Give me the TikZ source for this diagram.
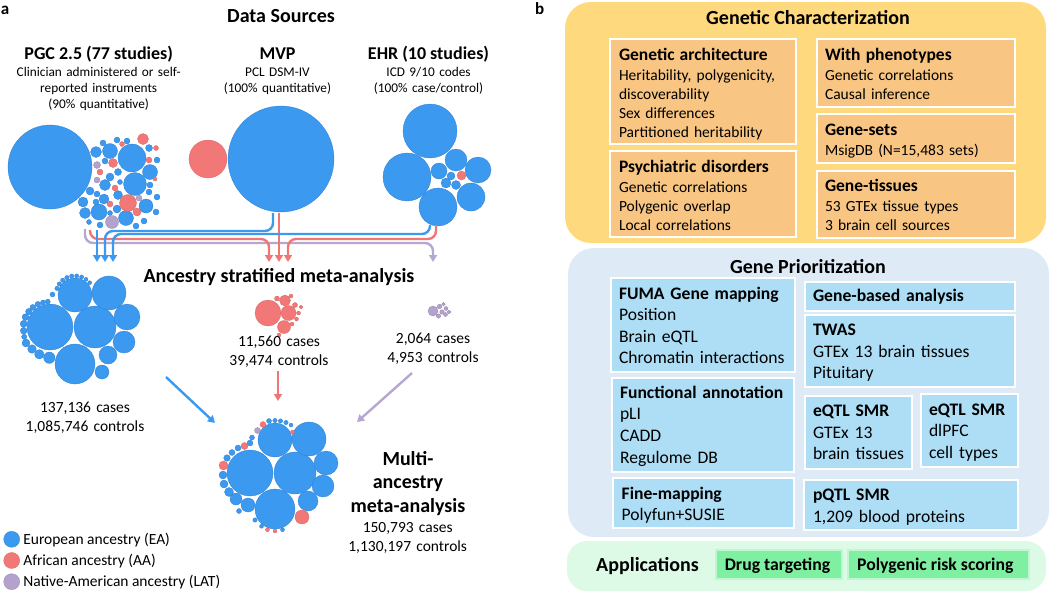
\documentclass[tikz,border=0pt]{standalone}
\usepackage{fontspec}
\setmainfont{Carlito}
\usetikzlibrary{arrows.meta}
\definecolor{eablue}{HTML}{3B99F0}
\definecolor{eaedge}{HTML}{2E7ED0}
\definecolor{aared}{HTML}{F27878}
\definecolor{aaedge}{HTML}{D86262}
\definecolor{latpurple}{HTML}{B3A2CC}
\definecolor{latedge}{HTML}{9585B0}
\definecolor{flowblue}{HTML}{3B99F0}
\definecolor{flowred}{HTML}{F07676}
\definecolor{flowpurple}{HTML}{B6A6D2}
\definecolor{gcyellow}{HTML}{FFD97E}
\definecolor{gcorange}{HTML}{F8C582}
\definecolor{gpbg}{HTML}{DEEBF7}
\definecolor{gpbox}{HTML}{ADDEF5}
\definecolor{apbg}{HTML}{DDFAE6}
\definecolor{apbox}{HTML}{7FEFA1}
\newcommand\fTitle{\fontsize{20}{23.6}\selectfont\bfseries}
\newcommand\fSrc{\fontsize{18}{22}\selectfont\bfseries}
\newcommand\fSub{\fontsize{13.3}{16.3}\selectfont}
\newcommand\fNum{\fontsize{15.5}{19}\selectfont}
\newcommand\fGhead{\fontsize{17.5}{19}\selectfont\bfseries}
\newcommand\fGbody{\fontsize{15.5}{19}\selectfont}
\newcommand\fPhead{\fontsize{17.6}{21.6}\selectfont\bfseries}
\newcommand\fPbody{\fontsize{17.6}{21.6}\selectfont}
\begin{document}
\begin{tikzpicture}[x=1pt,y=-1pt,every node/.style={inner sep=0pt,outer sep=0pt}]
\tikzset{
  ea/.style={fill=eablue,draw=eaedge,line width=0.3pt},
  aa/.style={fill=aared,draw=aaedge,line width=0.3pt},
  lat/.style={fill=latpurple,draw=latedge,line width=0.3pt},
  flow/.style={line width=2.4pt,rounded corners=8pt,-{Triangle[length=7pt,width=8pt]}},
  region/.style={anchor=north west,rounded corners=26pt,draw=none},
  gcbox/.style={anchor=north west,fill=gcorange,draw=white,line width=1.5pt},
  gpboxs/.style={anchor=north west,fill=gpbox,draw=white,line width=1.5pt},
  apboxs/.style={anchor=north west,fill=apbox,draw=white!50!apbox,line width=1.2pt},
  gtext/.style={anchor=base west,text width=200pt,align=left,font=\fGbody},
  ptext/.style={anchor=base west,text width=200pt,align=left,font=\fPbody},
  ctext/.style={anchor=base,text width=220pt,align=center},
}
\useasboundingbox (0,0) rectangle (1050,592);

% ---------------- panel a ----------------
\node[anchor=base west] (la) at (1,14) {\fontsize{17}{20}\selectfont\bfseries a};
\node[anchor=base] (ds) at (281,22.5) {\fTitle Data Sources};
\node[anchor=base] (pgc) at (98.7,59) {\fSrc PGC 2.5 (77 studies)};
\node[ctext,font=\fSub] (pgcs) at (98.7,76) {Clinician administered or self-\\reported instruments\\(90\% quantitative)};
\node[anchor=base] (mvp) at (277.5,59) {\fSrc MVP};
\node[ctext,font=\fSub] (mvps) at (277.5,76) {PCL DSM-IV\\(100\% quantitative)};
\node[anchor=base] (ehr) at (428.5,59) {\fSrc EHR (10 studies)};
\node[ctext,font=\fSub] (ehrs) at (428.5,76) {ICD 9/10 codes\\(100\% case/control)};

% PGC circles
\foreach \x/\y/\r in {50/167/42,96/152/5.5,110/151/7.5,132/158/14,149/148/3.5,150/172/7.5,135/184/11.5,146/206/7,99/212/8,85/213/5.5,83/202/5,126/218/7.5,105/185/5.5,110/177/4,118/172/3.5,90/191/4,104/199/5,118/195/4.5,120/182/2.5,150/185/3,149/192/3,117/209/4,127/141/3,105/161/3,97/194/3,110/213/2.5,96/202/3,144/221/3,157/160/3,
  103/143/3,117/140/3,157/197/3,156/212/3,136/226/3,100/225/3,89/222/2.5}
  \path[ea] (\x,\y) circle[radius=\r];
\foreach \x/\y/\r in {143/139/5.5,113/163/4.5,128/203/8.5,137/212/4,100/172/3,115/188/3,149/160/3,110/204/3,122/144/2.5,156/148/2.5,155/179/2}
  \path[aa] (\x,\y) circle[radius=\r];
\foreach \x/\y/\r in {112/222/6.5,97/180/3,97/165/3.5,139/198/3}
  \path[lat] (\x,\y) circle[radius=\r];

% MVP circles
\path[aa] (208,159) circle[radius=19];
\path[ea] (281,159) circle[radius=53];

% EHR circles
\foreach \x/\y/\r in {430/131/27,407/177/24,438/207/19,471/197/14,478/170/13,456/160/11,439/171/8,451/176/4,446/183/5,456/185/4.5}
  \path[ea] (\x,\y) circle[radius=\r];
\path[aa] (461.5,175.5) circle[radius=4.5];

% flow connectors
\coordinate (pgcP) at (85,229);  \coordinate (latT) at (433,262);
\coordinate (pgcR) at (90,230);  \coordinate (aaT1) at (269,262);
\coordinate (pgcB) at (97,230);  \coordinate (eaT1) at (97,262);
\coordinate (mvpB) at (273,213); \coordinate (eaT2) at (105,262);
\coordinate (mvpR) at (279,213); \coordinate (aaT2) at (279,262);
\coordinate (ehrB) at (430,225); \coordinate (eaT3) at (113,262);
\coordinate (ehrR) at (436,225); \coordinate (aaT3) at (288,262);
\draw[flow,flowpurple] (pgcP) |- (258,243) -| (latT);
\draw[flow,flowred] (pgcR) |- (180,239) -| (aaT1);
\draw[flow,flowred] (ehrR) |- (360,239) -| (aaT3);
\draw[flow,flowred] (mvpR) -- (aaT2);
\draw[flow,flowblue] (ehrB) |- (270,234) -| (eaT3);
\draw[flow,flowblue] (mvpB) |- (190,231) -| (eaT2);
\draw[flow,flowblue] (pgcB) -- (eaT1);

\node[anchor=base] (asm) at (279,282.3) {\fTitle Ancestry stratified meta-analysis};

% EA stratified cluster
\foreach \x/\y/\r in {50/327/23,95/327/21,75/295/17,109/293/17,127/317/13,124/342/11,108/355/9,102/372/7,75/364/20,49.3/357.7/5.7,39.3/354.3/4.7,32/349/4.3,26/343/4,
  47.8/301.6/2.5,43/302.5/2.5,37.9/304.2/2.8,32.9/307.4/3,28.8/311.6/3.2,25.5/317.1/3.4,23.7/323.8/3.5,23.7/330.7/3.4,24.2/336.8/2.6,
  52.5/294.5/2.5,57/288.4/2.2,59.3/284/2.2,62.7/280.3/2.2,66.9/277.6/2.2,71.7/276.1/2.2,76.7/275.9/2.1,81.6/277/2.1,86/279.3/2,89.7/282.7/2}
  \path[ea] (\x,\y) circle[radius=\r];
\node[ctext,font=\fNum] (ean) at (85,412.7) {137,136 cases\\1,085,746 controls};

% AA stratified cluster
\foreach \x/\y/\r in {268/313/13,288.5/313/7.5,284/327/6.5,285/300.5/5.5,295/305/2.5,298.5/313/2,296.5/319/2,292/324/2,277/298.5/2.5,291/296/2,279/335/2,301/307/1.8}
  \path[aa] (\x,\y) circle[radius=\r];
\node[ctext,font=\fNum] (aan) at (279,346.7) {11,560 cases\\39,474 controls};

% LAT stratified cluster
\foreach \x/\y/\r in {433/311/5,439.5/306.5/2.3,442/312/2.3,446/308.5/2,445.5/314.5/2,438.5/316/2.2,443.5/304.2/1.8,449/312/1.8}
  \path[lat] (\x,\y) circle[radius=\r];
\node[ctext,font=\fNum] (latn) at (433,343.3) {2,064 cases\\4,953 controls};

% arrows to multi-ancestry
\coordinate (eaS) at (166,377);  \coordinate (eaE) at (215,423);
\coordinate (aaS) at (278,371);  \coordinate (aaE) at (278,401);
\coordinate (latS) at (412,373); \coordinate (latE) at (357,422);
\draw[flow,flowblue] (eaS) -- (eaE);
\draw[flow,flowred] (aaS) -- (aaE);
\draw[flow,flowpurple] (latS) -- (latE);

% multi-ancestry cluster
\foreach \x/\y/\r in {250/473/23,295/473/21,275/440/17,309/439/17,326/463/12,323/486/11,308/501/10,275/509/20,248/505/7,236/499/6,229/492/4.5,
  224/484/4,223/475/4,227/458/3.3,232/452.5/3,238/448/3,250/443/3,252/437.5/2.5,269/421/2.5,275/420.5/2.2,280.5/421/2.2,286/422.5/2.2,291/425/2,
  282.5/529.7/2,261.5/526.3/2,239/511/2.5,255/520/2.2}
  \path[ea] (\x,\y) circle[radius=\r];
\foreach \x/\y/\r in {302/517/7,223.5/465.5/4.5,244.5/446/3.5,263/424.5/3,292.5/432/2,275/531/2,267.5/529.7/2}
  \path[aa] (\x,\y) circle[radius=\r];
\path[lat] (257.5,430.5) circle[radius=3];

\node[ctext,font=\fTitle] (mam) at (408,465) {Multi-\\ancestry\\meta-analysis};
\node[ctext,font=\fNum] (man) at (407.7,532.3) {150,793 cases\\1,130,197 controls};

% legend
\path[ea] (11.7,539.3) circle[radius=8];
\path[aa] (11.7,560.5) circle[radius=8];
\path[lat] (11.7,581.7) circle[radius=8];
\node[anchor=base west,font=\fNum] (lg1) at (23.3,544) {European ancestry (EA)};
\node[anchor=base west,font=\fNum] (lg2) at (23.3,565) {African ancestry (AA)};
\node[anchor=base west,font=\fNum] (lg3) at (23.3,586) {Native-American ancestry (LAT)};

% ---------------- panel b ----------------
\node[anchor=base west] (lb) at (535,14) {\fontsize{17}{20}\selectfont\bfseries b};

\node[region,fill=gcyellow,minimum width=481pt,minimum height=241pt] (gcreg) at (565,2) {};
\node[anchor=base] (gct) at (808,24) {\fTitle Genetic Characterization};
\node[gcbox,minimum width=186pt,minimum height=105pt] (ga) at (610,39) {};
\node[gcbox,minimum width=186pt,minimum height=86pt] (pd) at (610,151) {};
\node[gcbox,minimum width=198pt,minimum height=68pt] (wp) at (817,39) {};
\node[gcbox,minimum width=198pt,minimum height=49pt] (gs) at (817,114) {};
\node[gcbox,minimum width=198pt,minimum height=67pt] (gt) at (817,171) {};
\node[gtext] (gat) at (619,60) {{\fGhead Genetic architecture}\\[1pt]Heritability, polygenicity,\\discoverability\\Sex differences\\Partitioned heritability};
\node[gtext] (pdt) at (619,172) {{\fGhead Psychiatric disorders}\\[1pt]Genetic correlations\\Polygenic overlap\\Local correlations};
\node[gtext] (wpt) at (825,60) {{\fGhead With phenotypes}\\[1pt]Genetic correlations\\Causal inference};
\node[gtext] (gst) at (825,135) {{\fGhead Gene-sets}\\[1pt]MsigDB (N=15,483 sets)};
\node[gtext] (gtt) at (825,191.7) {{\fGhead Gene-tissues}\\[1pt]53 GTEx tissue types\\3 brain cell sources};

\node[region,fill=gpbg,minimum width=481pt,minimum height=289pt] (gpreg) at (568,248) {};
\node[anchor=base] (gpt) at (808,273.3) {\fTitle Gene Prioritization};
\node[gpboxs,minimum width=184pt,minimum height=94pt] (fuma) at (611,278) {};
\node[gpboxs,minimum width=210pt,minimum height=29pt] (gba) at (805,282) {};
\node[gpboxs,minimum width=210pt,minimum height=72pt] (twas) at (805,315) {};
\node[gpboxs,minimum width=182pt,minimum height=94pt] (fa) at (612,378) {};
\node[gpboxs,minimum width=107pt,minimum height=73pt] (smra) at (805,396) {};
\node[gpboxs,minimum width=97pt,minimum height=73pt] (smrb) at (921,394) {};
\node[gpboxs,minimum width=181pt,minimum height=50pt] (fm) at (613,478) {};
\node[gpboxs,minimum width=214pt,minimum height=50pt] (pq) at (804,480) {};
\node[ptext] (fumat) at (619,299) {{\fPhead FUMA Gene mapping}\\Position\\Brain eQTL\\Chromatin interactions};
\node[ptext] (gbat) at (813,301.7) {{\fPhead Gene-based analysis}};
\node[ptext] (twast) at (813,335.7) {{\fPhead TWAS}\\GTEx 13 brain tissues\\Pituitary};
\node[ptext] (fat) at (620,398.3) {{\fPhead Functional annotation}\\pLI\\CADD\\Regulome DB};
\node[ptext] (smrat) at (813,416.7) {{\fPhead eQTL SMR}\\GTEx 13\\brain tissues};
\node[ptext] (smrbt) at (929,415) {{\fPhead eQTL SMR}\\dlPFC\\cell types};
\node[ptext] (fmt) at (621.7,499) {{\fPhead Fine-mapping}\\Polyfun+SUSIE};
\node[ptext] (pqt) at (813,500.7) {{\fPhead pQTL SMR}\\1,209 blood proteins};

\node[region,fill=apbg,rounded corners=20pt,minimum width=479pt,minimum height=50pt] (apreg) at (567,541) {};
\node[anchor=base] (apt) at (647.5,571.7) {\fTitle Applications};
\node[apboxs,minimum width=126pt,minimum height=29pt] (drug) at (716,550) {};
\node[apboxs,minimum width=181pt,minimum height=29pt] (prs) at (848,550) {};
\node[anchor=base] (drugt) at (777.5,570.7) {\fontsize{17.7}{20}\selectfont\bfseries Drug targeting};
\node[anchor=base] (prst) at (935.3,570.7) {\fontsize{17.7}{20}\selectfont\bfseries Polygenic risk scoring};
\end{tikzpicture}
\end{document}
